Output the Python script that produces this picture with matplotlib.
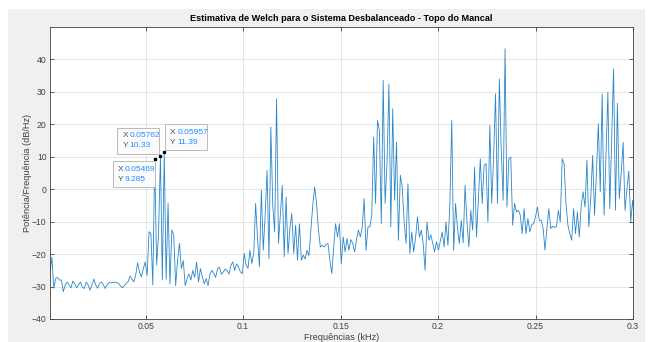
import numpy as np
import matplotlib.pyplot as plt
from matplotlib.patches import Rectangle

plt.rcParams['font.family'] = ['Liberation Sans', 'DejaVu Sans']

# Welch PSD (dB/Hz), bins k/1024 kHz, k = 1..308
psd_db = [
    -25.9, -21.0, -30.5, -27.5, -27.2, -28.0, -28.0, -31.6, -29.5, -28.6,
    -29.5, -30.4, -28.3, -29.2, -30.4, -29.5, -28.6, -30.2, -30.6, -28.6,
    -29.5, -31.1, -29.6, -27.7, -29.5, -30.5, -29.0, -28.6, -29.4, -30.6,
    -29.4, -28.8, -28.8, -28.8, -28.6, -28.8, -29.0, -29.8, -30.4, -29.7,
    -29.0, -28.5, -26.8, -27.6, -28.6, -26.5, -22.7, -25.5, -27.0, -24.5,
    -22.4, -26.6, -13.1, -13.6, -29.5, 9.285, -23.4, -14.0, 10.33, -28.0,
    11.39, -27.7, -4.3, -29.2, -12.6, -14.0, -29.7, -22.0, -16.7, -24.5,
    -22.0, -29.7, -27.6, -26.2, -28.0, -25.0, -27.2, -22.4, -28.6, -24.5,
    -27.0, -29.2, -27.5, -29.7, -26.2, -25.0, -26.0, -27.2, -24.5, -24.0,
    -26.2, -25.5, -24.6, -25.0, -26.2, -23.5, -22.4, -25.0, -23.0, -24.0,
    -25.5, -26.0, -19.8, -23.4, -24.4, -18.8, -22.9, -19.8, -4.4, -15.0,
    -23.9, -0.3, -18.8, -8.0, 5.8, -21.4, 19.2, -5.0, -13.2, 27.9,
    -16.7, -8.0, 1.2, -20.8, -2.4, -19.8, -12.0, -7.5, -19.8, -11.1,
    -21.9, -10.6, -21.9, -20.3, -21.5, -18.8, -20.5, -12.6, -5.0, 0.7,
    -4.4, -12.6, -17.8, -17.3, -17.8, -17.0, -16.7, -21.9, -26.0, -17.8,
    -10.6, -14.7, -10.6, -22.9, -14.7, -19.3, -15.2, -18.8, -15.5, -16.7,
    -19.3, -15.5, -12.6, -14.7, -11.6, -2.9, -18.8, -11.6, -11.6, -8.0,
    16.1, -4.4, 21.2, 18.1, -10.6, 33.5, -4.4, 8.0, 32.5, -11.6,
    24.8, -3.4, 14.5, -15.7, 4.3, 0.7, -10.0, -16.7, 1.7, -19.8,
    -13.2, -19.3, -15.0, -8.5, -14.7, -12.6, -16.7, -25.0, -10.1, -15.7,
    -14.0, -16.7, -19.3, -16.2, -18.8, -16.0, -13.2, -17.8, -10.1, -17.3,
    -5.0, 21.2, -18.8, -4.4, -12.0, -16.7, -9.6, -16.5, 1.2, -10.0,
    -17.8, -6.5, -12.6, 6.8, -14.7, -3.0, 9.4, -4.4, 7.4, 7.9,
    -10.1, 19.7, -4.4, 10.0, 29.4, -4.4, 34.0, 12.0, -3.4, 43.3,
    -5.5, 9.4, 9.9, -11.1, -4.4, -7.0, -6.5, -8.0, -13.7, -6.0,
    -13.7, -9.0, -13.2, -11.0, -10.6, -8.5, -5.5, -9.6, -9.6, -12.1,
    -18.8, -12.0, -6.0, -12.1, -11.4, -11.8, -11.5, -6.5, -10.1, 9.4,
    7.9, -4.4, -11.0, -13.7, -15.7, -6.0, -13.7, -7.0, -14.7, -5.0,
    -0.8, -5.5, 8.9, -11.6, -3.0, 10.4, -8.0, 5.0, 20.2, -0.8,
    29.4, -8.0, 10.0, 29.9, -6.0, 15.0, 37.1, -6.5, 26.5, -2.9,
    5.0, 14.5, -6.5, 0.0, 5.6, -10.1, -3.4, -10.6,
]
freq = np.arange(1, len(psd_db) + 1) / 1024.0

# data tips: bin index, box offset (px from point: left, top)
tip_bins = [56, 59, 61]
tip_offsets = [(-42, 2), (-43, -28), (1, -28)]

xticks = [0.05, 0.1, 0.15, 0.2, 0.25, 0.3]
yticks = [-40, -30, -20, -10, 0, 10, 20, 30, 40]

W, H = 652, 342
fig = plt.figure(figsize=(W / 100, H / 100), dpi=100, facecolor='white')
fig.patches.append(Rectangle((8 / W, 0), 637 / W, 333 / H, transform=fig.transFigure,
                             facecolor='#f0f0f0', edgecolor='none', zorder=-10))

ax = fig.add_axes([50 / W, 23 / H, 583 / W, 292 / H])
ax.set_facecolor('white')
ax.plot(freq, psd_db, color='#2a86c9', lw=0.6)
ax.set_xlim(1 / 1024, 0.3)
ax.set_ylim(-40, 50)
ax.set_xticks(xticks)
ax.set_xticklabels(['0.05', '0.1', '0.15', '0.2', '0.25', '0.3'])
ax.set_yticks(yticks)
ax.grid(True, color='#e0e0e0', lw=0.6)
ax.tick_params(direction='in', length=3, width=0.6, colors='#404040', labelsize=6.2,
               top=True, right=True, pad=2.5)
for s in ax.spines.values():
    s.set_color('#404040')
    s.set_linewidth(0.6)
ax.set_title('Estimativa de Welch para o Sistema Desbalanceado - Topo do Mancal',
             fontsize=6.6, fontweight='bold', color='black', pad=4)
ax.set_xlabel('Frequências (kHz)', fontsize=6.6, color='#404040', labelpad=1)
ax.set_ylabel('Potência/Frequência (dB/Hz)', fontsize=6.6, color='#404040', labelpad=0)

# data tips
inv = fig.transFigure.inverted()
for k, (dx, dy) in zip(tip_bins, tip_offsets):
    xv, yv = freq[k - 1], psd_db[k - 1]
    px, py = ax.transData.transform((xv, yv))
    ax.plot(xv, yv, 's', ms=1.4, color='black', zorder=5)
    left, top = px + dx, py - dy
    (fx, fy) = inv.transform((left, top - 26))
    fig.patches.append(Rectangle((fx, fy), 42 / W, 26 / H, transform=fig.transFigure,
                                 facecolor='#fbfbfb', edgecolor='#b0b0b0', lw=0.6, zorder=10))
    for j, (lab, val) in enumerate([('X', f'{xv:.4g}'), ('Y', f'{yv:.4g}')]):
        tx, ty = inv.transform((left + 5, top - 8 - 10 * j))
        fig.text(tx, ty, lab, fontsize=6, color='#505050', va='center', zorder=11)
        tx2, _ = inv.transform((left + 12, 0))
        fig.text(tx2, ty, val, fontsize=6, color='#1f8fff',
                 va='center', zorder=11)

fig.savefig('out.png', dpi=100, facecolor='white')
